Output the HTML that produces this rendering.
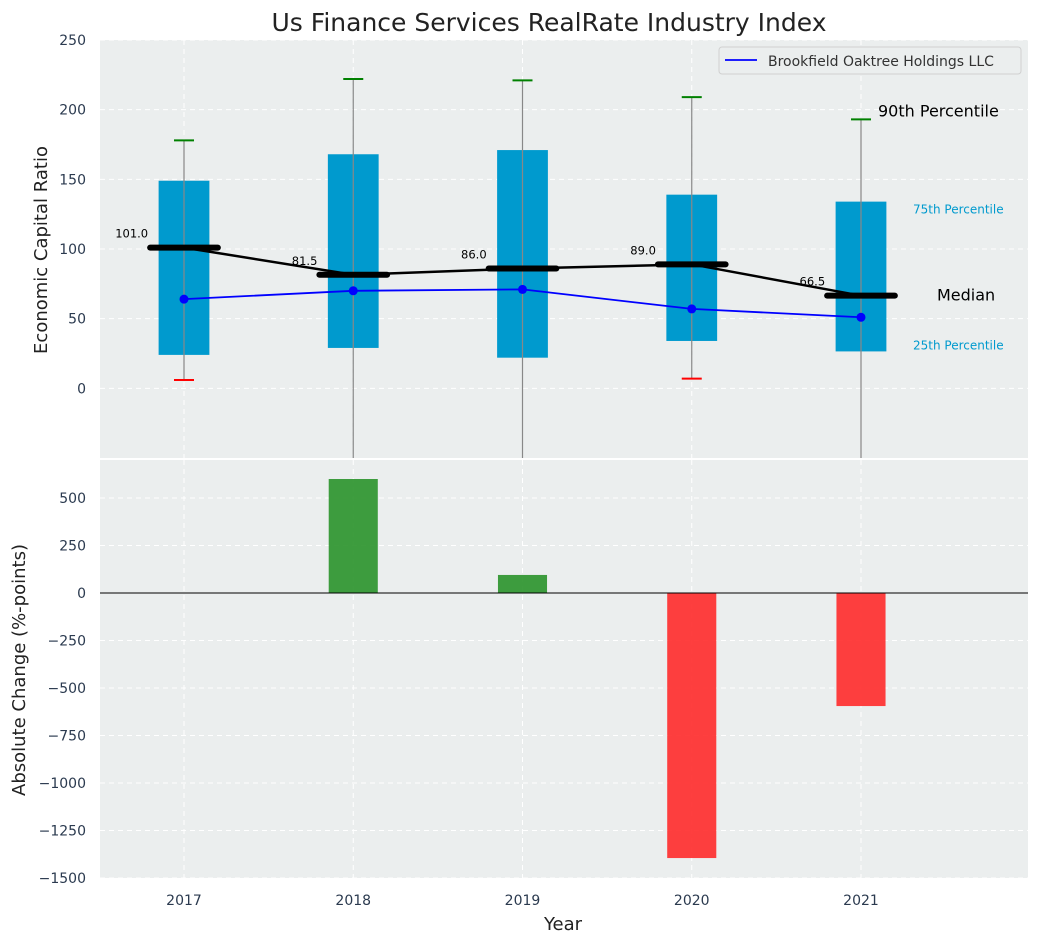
<!DOCTYPE html>
<html><head><meta charset="utf-8"><style>
body{margin:0;background:#fff;font-family:"DejaVu Sans","Liberation Sans",sans-serif;}
svg text{font-family:"DejaVu Sans","Liberation Sans",sans-serif;}
</style></head><body>
<svg id="c" width="1039" height="942" xmlns="http://www.w3.org/2000/svg"></svg>
<script>
const years=[2017,2018,2019,2020,2021];
const p90=[178,222,221,209,193];
const p75=[149,168,171,139,134];
const medians=[101,81.5,86,89,66.5];
const p25=[24,29,22,34,26.5];
const p10=[6,-80,-80,7,-80];
const company=[64,70,71,57,51];
const changes=[0,600,95,-1395,-595];
const topTicks=[0,50,100,150,200,250];
const botTicks=[-1500,-1250,-1000,-750,-500,-250,0,250,500];

const NS="http://www.w3.org/2000/svg";
const svg=document.getElementById('c');
function el(tag,attrs,parent,text){const e=document.createElementNS(NS,tag);for(const k in attrs)e.setAttribute(k,attrs[k]);if(text!==undefined)e.textContent=text;(parent||svg).appendChild(e);return e;}
const L=100,R=1028,T1=40,B1=458,T2=460,B2=878;
const x=v=>184+(v-2017)*169.25;
const y1=v=>B1-(v+50)/300*(B1-T1);
const y2=v=>B2-(v+1500)/2200*(B2-T2);
const cy=(v)=>Math.max(T1,Math.min(B1,v));

let g=el('g',{});
el('rect',{x:L,y:T1,width:R-L,height:B1-T1,fill:'#ebeeee'},g);
let g2=el('g',{});
el('rect',{x:L,y:T2,width:R-L,height:B2-T2,fill:'#ebeeee'},g2);
years.forEach(yr=>{el('line',{x1:x(yr),x2:x(yr),y1:T1,y2:B1,stroke:'#fff','stroke-dasharray':'5,4'},g);el('line',{x1:x(yr),x2:x(yr),y1:T2,y2:B2,stroke:'#fff','stroke-dasharray':'5,4'},g2);
 const t=el('text',{x:x(yr),y:905,'text-anchor':'middle','font-size':14,fill:'#2b3a4f'},svg,yr);});
topTicks.forEach(v=>{el('line',{x1:L,x2:R,y1:y1(v),y2:y1(v),stroke:'#fff','stroke-dasharray':'5,4'},g);
 const t=el('text',{x:86,y:y1(v)+5,'text-anchor':'end','font-size':14,fill:'#2b3a4f'},svg,v);});
botTicks.forEach(v=>{el('line',{x1:L,x2:R,y1:y2(v),y2:y2(v),stroke:'#fff','stroke-dasharray':'5,4'},g2);
 const t=el('text',{x:86,y:y2(v)+5,'text-anchor':'end','font-size':14,fill:'#2b3a4f'},svg,String(v).replace('-','\u2212'));});

const bw=0.15;
years.forEach((yr,i)=>{
 const b=el('rect',{x:x(yr-bw),y:y1(p75[i]),width:x(yr+bw)-x(yr-bw),height:y1(p25[i])-y1(p75[i]),fill:'#009ace'},g);
 
 const w=el('line',{x1:x(yr),x2:x(yr),y1:cy(y1(p90[i])),y2:cy(y1(p10[i])),stroke:'#888','stroke-width':1.2},g);
 
 el('line',{x1:x(yr)-10,x2:x(yr)+10,y1:y1(p90[i]),y2:y1(p90[i]),stroke:'green','stroke-width':2},g);
 if(y1(p10[i])<B1) el('line',{x1:x(yr)-10,x2:x(yr)+10,y1:y1(p10[i]),y2:y1(p10[i]),stroke:'red','stroke-width':2},g);
});
let pts=years.map((yr,i)=>x(yr)+','+y1(medians[i])).join(' ');
let ml=el('polyline',{points:pts,fill:'none',stroke:'#000','stroke-width':2.5},g);
years.forEach((yr,i)=>{
 const m=el('line',{x1:x(yr-0.2),x2:x(yr+0.2),y1:y1(medians[i]),y2:y1(medians[i]),stroke:'#000','stroke-width':6,'stroke-linecap':'round'},g);
 
 const t=el('text',{x:x(yr-0.2)-2,y:y1(medians[i])-10,'text-anchor':'end','font-size':11.5,fill:'#000'},g,medians[i].toFixed(1));
 
});
pts=years.map((yr,i)=>x(yr)+','+y1(company[i])).join(' ');
let cl=el('polyline',{points:pts,fill:'none',stroke:'blue','stroke-width':1.8},g);
years.forEach((yr,i)=>{const c=el('circle',{cx:x(yr),cy:y1(company[i]),r:4.5,fill:'blue'},g);});
const ax=x(2021);
[['90th Percentile',ax+17,y1(p90[4])-3,16,'#000'],['75th Percentile',ax+52,y1(p75[4])+12,12,'#009ace'],['Median',ax+76,y1(medians[4])+5,16,'#000'],['25th Percentile',ax+52,y1(p25[4])-2,12,'#009ace']].forEach(a=>{
 const t=el('text',{x:a[1],y:a[2],'font-size':a[3],fill:a[4]},g,a[0]);});
const lg=el('g',{});
el('rect',{x:719,y:47,width:302,height:27,rx:3,fill:'#ebeeee',stroke:'#d0d0d0'},lg);
el('line',{x1:725,x2:757,y1:60,y2:60,stroke:'blue','stroke-width':1.8},lg);
el('text',{x:768,y:66,'font-size':14,fill:'#333'},lg,'Brookfield Oaktree Holdings LLC');
years.forEach((yr,i)=>{if(changes[i]===0)return;
 const v=changes[i];const b=el('rect',{x:x(yr-0.145),y:Math.min(y2(v),y2(0)),width:x(yr+0.145)-x(yr-0.145),height:Math.abs(y2(v)-y2(0)),fill:v>0?'#2a922a':'#ff2a2a','fill-opacity':0.9},g2);
 });
el('line',{x1:L,x2:R,y1:y2(0),y2:y2(0),stroke:'#000','stroke-width':1},g2);
let t=el('text',{x:549,y:31,'text-anchor':'middle','font-size':25,fill:'#222'},svg,'Us Finance Services RealRate Industry Index');
t=el('text',{x:563,y:930,'text-anchor':'middle','font-size':18,fill:'#222'},svg,'Year');
t=el('text',{x:0,y:0,'text-anchor':'middle','font-size':18,fill:'#222',transform:'translate(47,250) rotate(-90)'},svg,'Economic Capital Ratio');
t=el('text',{x:0,y:0,'text-anchor':'middle','font-size':18,fill:'#222',transform:'translate(25,670) rotate(-90)'},svg,'Absolute Change (%-points)');
</script>
</body></html>
